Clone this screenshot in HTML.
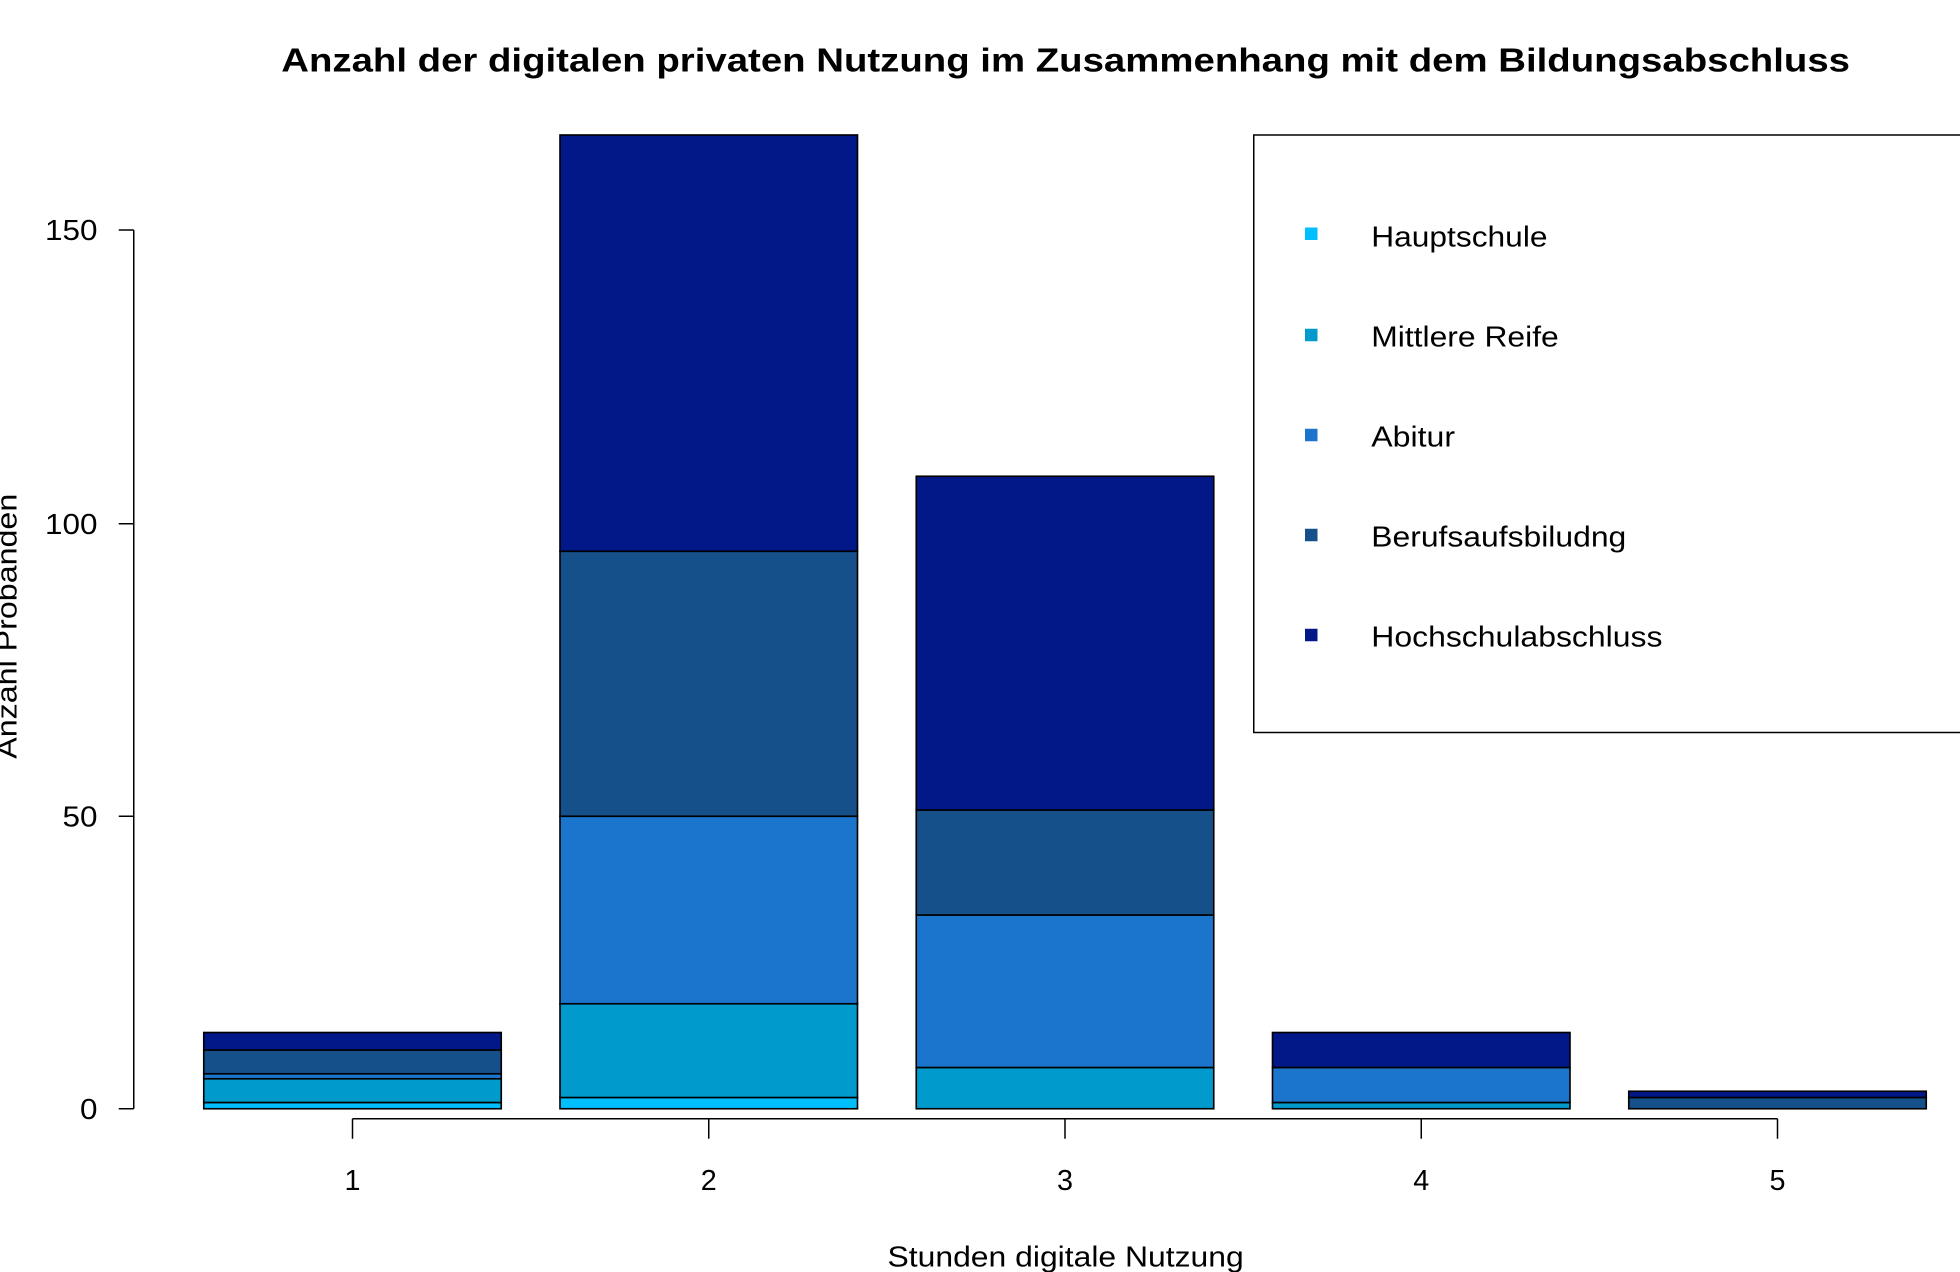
<!DOCTYPE html>
<html><head><meta charset="utf-8"><style>
html,body{margin:0;padding:0;background:#fff;}
svg{display:block;}
text{font-family:"Liberation Sans",Arial,sans-serif;fill:#000;}
</style></head><body>
<svg width="1960" height="1272" viewBox="0 0 1568 1017.6" preserveAspectRatio="none" xmlns="http://www.w3.org/2000/svg">
<rect width="1568" height="1017.6" fill="#fff"/>
<text x="225" y="57" font-size="27" font-weight="bold" textLength="1255" lengthAdjust="spacingAndGlyphs">Anzahl der digitalen privaten Nutzung im Zusammenhang mit dem Bildungsabschluss</text>
<g stroke="#000" stroke-width="1.2">
<line x1="107" y1="184" x2="107" y2="887"/>
<line x1="95" y1="887" x2="107" y2="887"/>
<line x1="95" y1="653" x2="107" y2="653"/>
<line x1="95" y1="419" x2="107" y2="419"/>
<line x1="95" y1="184" x2="107" y2="184"/>
<line x1="282" y1="895" x2="1422" y2="895"/>
<line x1="282" y1="895" x2="282" y2="911"/>
<line x1="567" y1="895" x2="567" y2="911"/>
<line x1="852" y1="895" x2="852" y2="911"/>
<line x1="1137" y1="895" x2="1137" y2="911"/>
<line x1="1422" y1="895" x2="1422" y2="911"/>
</g>
<g font-size="23">
<text x="64" y="895" textLength="14" lengthAdjust="spacingAndGlyphs">0</text>
<text x="50" y="661" textLength="28" lengthAdjust="spacingAndGlyphs">50</text>
<text x="36" y="427" textLength="42" lengthAdjust="spacingAndGlyphs">100</text>
<text x="36" y="192" textLength="42" lengthAdjust="spacingAndGlyphs">150</text>
</g>
<g font-size="23" text-anchor="middle">
<text x="282" y="952">1</text>
<text x="567" y="952">2</text>
<text x="852" y="952">3</text>
<text x="1137" y="952">4</text>
<text x="1422" y="952">5</text>
</g>
<text x="710" y="1013" font-size="23" textLength="285" lengthAdjust="spacingAndGlyphs">Stunden digitale Nutzung</text>
<text transform="translate(13,607) rotate(-90)" font-size="23" textLength="212" lengthAdjust="spacingAndGlyphs">Anzahl Probanden</text>
<g stroke="#000" stroke-width="1.3">
<rect x="163" y="882" width="238" height="5" fill="#00BFFF"/>
<rect x="163" y="863" width="238" height="19" fill="#009ACD"/>
<rect x="163" y="859" width="238" height="4" fill="#1C75CC"/>
<rect x="163" y="840" width="238" height="19" fill="#15508B"/>
<rect x="163" y="826" width="238" height="14" fill="#021889"/>
<rect x="448" y="878" width="238" height="9" fill="#00BFFF"/>
<rect x="448" y="803" width="238" height="75" fill="#009ACD"/>
<rect x="448" y="653" width="238" height="150" fill="#1C75CC"/>
<rect x="448" y="441" width="238" height="212" fill="#15508B"/>
<rect x="448" y="108" width="238" height="333" fill="#021889"/>
<rect x="733" y="854" width="238" height="33" fill="#009ACD"/>
<rect x="733" y="732" width="238" height="122" fill="#1C75CC"/>
<rect x="733" y="648" width="238" height="84" fill="#15508B"/>
<rect x="733" y="381" width="238" height="267" fill="#021889"/>
<rect x="1018" y="882" width="238" height="5" fill="#009ACD"/>
<rect x="1018" y="854" width="238" height="28" fill="#1C75CC"/>
<rect x="1018" y="826" width="238" height="28" fill="#021889"/>
<rect x="1303" y="878" width="238" height="9" fill="#15508B"/>
<rect x="1303" y="873" width="238" height="5" fill="#021889"/>
</g>
<rect x="1003" y="108" width="600" height="478" fill="#fff" stroke="#000" stroke-width="1.2"/>
<g>
<rect x="1044" y="182" width="10" height="10" fill="#00BFFF"/>
<rect x="1044" y="263" width="10" height="10" fill="#009ACD"/>
<rect x="1044" y="343" width="10" height="10" fill="#1C75CC"/>
<rect x="1044" y="423" width="10" height="10" fill="#15508B"/>
<rect x="1044" y="503" width="10" height="10" fill="#021889"/>
</g>
<g font-size="23">
<text x="1097" y="197" textLength="141" lengthAdjust="spacingAndGlyphs">Hauptschule</text>
<text x="1097" y="277" textLength="150" lengthAdjust="spacingAndGlyphs">Mittlere Reife</text>
<text x="1097" y="357" textLength="67" lengthAdjust="spacingAndGlyphs">Abitur</text>
<text x="1097" y="437" textLength="204" lengthAdjust="spacingAndGlyphs">Berufsaufsbiludng</text>
<text x="1097" y="517" textLength="233" lengthAdjust="spacingAndGlyphs">Hochschulabschluss</text>
</g>
</svg>
</body></html>
